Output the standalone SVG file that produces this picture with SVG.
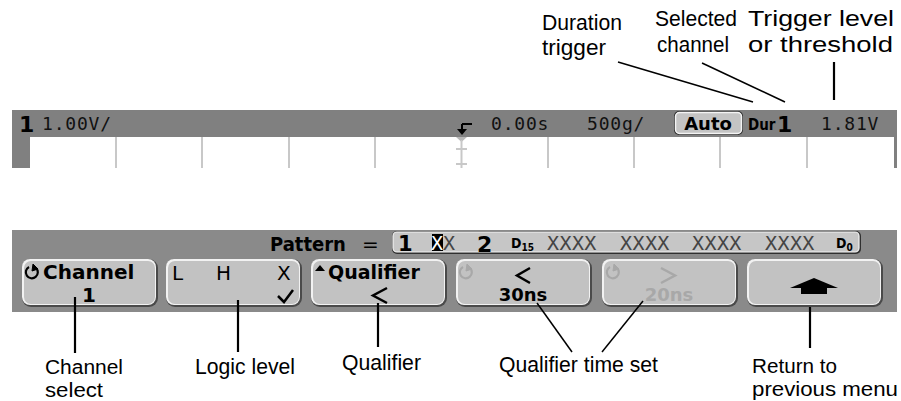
<svg xmlns="http://www.w3.org/2000/svg" width="901" height="401" viewBox="0 0 901 401">
<defs>
<style>
.lbl{font-family:"Liberation Sans",Arial,sans-serif;font-size:22.5px;fill:#000}
.lbs{font-family:"Liberation Sans",Arial,sans-serif;font-size:20px;fill:#000}
.scr{font-family:"DejaVu Sans Mono",monospace;font-size:18px;fill:#111;letter-spacing:0.8px}
.bold{font-family:"DejaVu Sans",sans-serif;font-weight:bold;fill:#000}
.cond{font-family:"DejaVu Sans Condensed","DejaVu Sans",sans-serif;font-weight:bold;fill:#000}
.reg{font-family:"DejaVu Sans",sans-serif;fill:#000}
.xs{font-family:"DejaVu Sans Mono",monospace;font-size:20px;fill:#444;letter-spacing:0.4px}
.grid{stroke:#c8c8c8;stroke-width:2}
.lead{stroke:#000;stroke-width:1.5;fill:none}
.leadv{stroke:#000;stroke-width:2.2;fill:none}
</style>
<g id="btnshape">
<rect x="0" y="0" width="136" height="48" rx="9" fill="#4a4a4a"/>
<rect x="0" y="0" width="134" height="46" rx="8" fill="#f2f2f2"/>
<rect x="2" y="2" width="131" height="43" rx="7" fill="#c2c2c2"/>
</g>
<g id="cycle">
<path d="M -3 -5 A 6 6 0 1 0 4 -4" fill="none" stroke-width="2.2"/>
<path d="M 1 -8 L 6 -3 L 0 -1 Z"/>
</g>
</defs>

<g id="top-bar">
<rect x="12" y="110" width="885" height="58" fill="#808080"/>
<rect x="30" y="137" width="864" height="31" fill="#ffffff"/>
<line class="grid" x1="116" y1="137" x2="116" y2="168"/>
<line class="grid" x1="202" y1="137" x2="202" y2="168"/>
<line class="grid" x1="289" y1="137" x2="289" y2="168"/>
<line class="grid" x1="375" y1="137" x2="375" y2="168"/>
<line class="grid" x1="548" y1="137" x2="548" y2="168"/>
<line class="grid" x1="634" y1="137" x2="634" y2="168"/>
<line class="grid" x1="720" y1="137" x2="720" y2="168"/>
<line class="grid" x1="807" y1="137" x2="807" y2="168"/>
<text class="bold" x="19" y="132" font-size="22">1</text>
<text class="scr" x="42" y="130">1.00V/</text>
<g id="trigger-marker">
<path d="M 462 124 H 472 M 462 124 V 130" stroke="#000" stroke-width="2" fill="none"/>
<path d="M 457 129 L 467 129 L 462 135 Z" fill="#000"/>
<path d="M 456 137 L 467 137 L 461.5 142 Z" fill="#b8b8b8"/>
<line x1="461.5" y1="140" x2="461.5" y2="168" stroke="#c8c8c8" stroke-width="2"/>
<path d="M 456 149 H 467 M 456 164 H 467" stroke="#c8c8c8" stroke-width="2"/>
</g>
<text class="scr" x="491" y="130">0.00s</text>
<text class="scr" x="587" y="130">500g/</text>
<g id="auto-box">
<rect x="674" y="111" width="69" height="24" rx="5" fill="#303030"/>
<rect x="675.5" y="112.5" width="66" height="21" rx="4" fill="#c4c4c4" stroke="#f4f4f4" stroke-width="1.5"/>
<text class="bold" x="708" y="130" font-size="18" text-anchor="middle">Auto</text>
</g>
<text class="cond" x="748" y="130" font-size="15">Dur</text>
<text class="bold" x="777" y="132" font-size="22">1</text>
<text class="scr" x="821" y="130">1.81V</text>
</g>

<g id="bottom-bar">
<rect x="12" y="230" width="885" height="82" fill="#8a8a8a"/>
<text class="cond" x="270" y="251" font-size="20">Pattern</text>
<text class="reg" x="362" y="251" font-size="20" fill="#111">=</text>
<g id="pattern-box">
<rect x="392" y="231" width="469" height="23" rx="5" fill="#303030"/>
<rect x="393" y="232" width="466" height="20" rx="4" fill="#c6c6c6" stroke="#f4f4f4" stroke-width="1.2"/>
<text class="bold" x="398" y="251" font-size="21">1</text>
<rect x="432" y="234" width="11" height="17" fill="#000"/>
<text class="xs" x="431" y="250" style="fill:#fff">X</text>
<text class="xs" x="443" y="250">X</text>
<text class="bold" x="477" y="252" font-size="22">2</text>
<text class="cond" x="511" y="248" font-size="14">D<tspan font-size="10" dy="3">15</tspan></text>
<text class="xs" x="547" y="250">XXXX</text>
<text class="xs" x="620" y="250">XXXX</text>
<text class="xs" x="692" y="250">XXXX</text>
<text class="xs" x="765" y="250">XXXX</text>
<text class="cond" x="836" y="248" font-size="14">D<tspan font-size="10" dy="3">0</tspan></text>
</g>
</g>

<g id="btn-channel">
<use href="#btnshape" x="22" y="259"/>
<use href="#cycle" x="32" y="272" fill="#000" stroke="#000"/>
<text class="bold" x="43" y="279" font-size="20">Channel</text>
<text class="bold" x="89" y="302" font-size="20" text-anchor="middle">1</text>
</g>
<g id="btn-logic">
<use href="#btnshape" x="166" y="259"/>
<text class="reg" x="172" y="280" font-size="20">L</text>
<text class="reg" x="216" y="280" font-size="20">H</text>
<text class="reg" x="277" y="280" font-size="20">X</text>
<path d="M 278 296 L 284 302 L 293 290" stroke="#000" stroke-width="2.5" fill="none"/>
</g>
<g id="btn-qualifier">
<use href="#btnshape" x="311" y="259"/>
<path d="M 315 271 L 325 271 L 320 265 Z" fill="#000"/>
<text class="bold" x="328" y="279" font-size="19">Qualifier</text>
<path d="M 387 288 L 373 295.5 L 387 303" stroke="#000" stroke-width="2.5" fill="none"/>
</g>
<g id="btn-time1">
<use href="#btnshape" x="456" y="259"/>
<use href="#cycle" x="466" y="272" fill="#a8a8a8" stroke="#a8a8a8"/>
<path d="M 530 268 L 517 275.5 L 530 283" stroke="#000" stroke-width="2.5" fill="none"/>
<text class="bold" x="523" y="301" font-size="18" text-anchor="middle">30ns</text>
</g>
<g id="btn-time2">
<use href="#btnshape" x="602" y="259"/>
<use href="#cycle" x="613" y="272" fill="#a8a8a8" stroke="#a8a8a8"/>
<path d="M 661 268 L 675 275.5 L 661 283" stroke="#a8a8a8" stroke-width="2.5" fill="none"/>
<text class="bold" x="669" y="301" font-size="18" text-anchor="middle" style="fill:#a8a8a8">20ns</text>
</g>
<g id="btn-return">
<use href="#btnshape" x="747" y="259"/>
<path d="M 814 278 L 838 288 L 790 288 Z" fill="#000"/>
<rect x="801" y="288" width="26" height="6" fill="#000"/>
</g>

<g id="connectors">
<line class="lead" x1="618" y1="62" x2="753" y2="102"/>
<line class="lead" x1="702" y1="63" x2="785" y2="102"/>
<line class="leadv" x1="834" y1="62" x2="834" y2="100"/>
<line class="leadv" x1="75" y1="297" x2="75" y2="353"/>
<line class="leadv" x1="238" y1="300" x2="238" y2="352"/>
<line class="leadv" x1="378" y1="303" x2="378" y2="347"/>
<line class="lead" x1="537" y1="303" x2="572" y2="352"/>
<line class="lead" x1="643" y1="301" x2="602" y2="352"/>
<line class="leadv" x1="810" y1="307" x2="810" y2="348"/>
</g>

<g id="labels">
<text class="lbl" x="542" y="30" textLength="80" lengthAdjust="spacingAndGlyphs">Duration</text>
<text class="lbl" x="542" y="55" textLength="64" lengthAdjust="spacingAndGlyphs">trigger</text>
<text class="lbl" x="655" y="26" textLength="82" lengthAdjust="spacingAndGlyphs">Selected</text>
<text class="lbl" x="657" y="52" textLength="72" lengthAdjust="spacingAndGlyphs">channel</text>
<text class="lbl" x="748" y="26" textLength="146" lengthAdjust="spacingAndGlyphs">Trigger level</text>
<text class="lbl" x="748" y="52" textLength="145" lengthAdjust="spacingAndGlyphs">or threshold</text>
<text class="lbs" x="45" y="373.5" textLength="78" lengthAdjust="spacingAndGlyphs">Channel</text>
<text class="lbs" x="45" y="396.5" textLength="58" lengthAdjust="spacingAndGlyphs">select</text>
<text class="lbl" x="195" y="374" textLength="100" lengthAdjust="spacingAndGlyphs">Logic level</text>
<text class="lbl" x="342" y="370" textLength="79" lengthAdjust="spacingAndGlyphs">Qualifier</text>
<text class="lbl" x="499" y="372" textLength="159" lengthAdjust="spacingAndGlyphs">Qualifier time set</text>
<text class="lbs" x="752" y="373" textLength="85" lengthAdjust="spacingAndGlyphs">Return to</text>
<text class="lbs" x="752" y="396" textLength="146" lengthAdjust="spacingAndGlyphs">previous menu</text>
</g>
</svg>
